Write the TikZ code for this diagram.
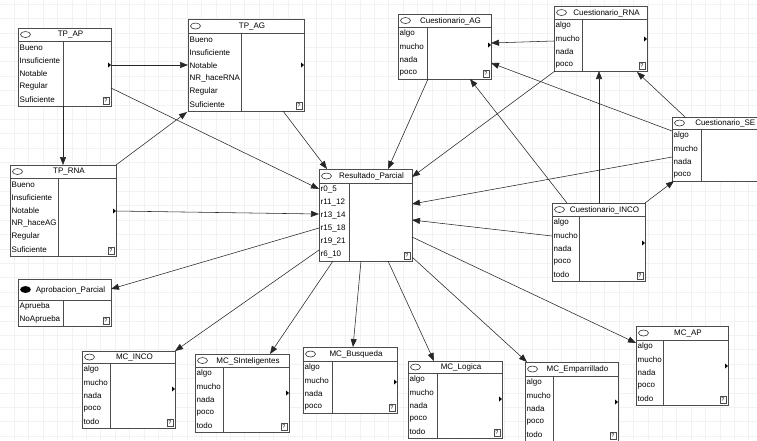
\documentclass[tikz,border=0pt]{standalone}
\usepackage{fontspec}
\setmainfont{Liberation Sans}
\usetikzlibrary{arrows.meta,calc}
\tikzset{
  boxframe/.style={draw=black!70, line width=0.7pt, fill=white, inner sep=0pt, outer sep=0pt},
  boxline/.style={draw=black!70, line width=0.7pt},
  rowtext/.style={font=\fontsize{8}{9}\selectfont, inner sep=0pt, anchor=west},
  titletext/.style={font=\fontsize{8}{9}\selectfont, inner sep=0pt},
  qtext/.style={font=\fontsize{5.5}{6}\selectfont, inner sep=0pt},
  conn/.style={draw=black!85, line width=0.55pt, -{Triangle[length=8pt,width=6pt]}},
  gridline/.style={draw=black!5, line width=0.4pt},
}
% #1 name, #2 left, #3 top, #4 right, #5 divider, #6 title bottom, #7 number of rows, #8 title, #9 rows
\newcommand{\netbox}[9]{%
  \pgfmathsetmacro\bB{#6+13*#7}%
  \node[boxframe, minimum width={(#4-#2)*1pt}, minimum height={(\bB-#3)*1pt}, anchor=north west] (#1) at (#2,#3) {};
  \draw[boxline] (#2,#6) -- (#4,#6);
  \draw[boxline] (#5,#6) -- (#5,\bB);
  \draw[black!80, line width=0.6pt] (#2+7.5,{(#3+#6)/2}) ellipse (5 and 3);
  \node[titletext] at ({(#2+12+#4)/2},{(#3+#6)/2+0.5}) {#8};
  \foreach \r [count=\i] in {#9} {\node[rowtext] at (#2+1.5,{#6+13*\i-6.2}) {\r};}
  \ifdim #4pt<757pt
    \draw[black!70, line width=0.5pt] (#4-8,\bB-9) rectangle (#4-2,\bB-2);
    \node[qtext] at (#4-5,\bB-5.4) {?};
  \fi
}
\newcommand{\handle}[2]{\fill[black] (#1,#2) -- (#1-3,#2-2.5) -- (#1-3,#2+2.5) -- cycle;}
\begin{document}
\begin{tikzpicture}[x=1pt,y=-1pt]
\useasboundingbox (0,0) rectangle (757,440);
\clip (0,0) rectangle (757,440);
\fill[white] (0,0) rectangle (757,440);
\foreach \k in {0,...,52} {\draw[gridline] (14.2+14.4*\k,0) -- (14.2+14.4*\k,440);}
\foreach \k in {0,...,30} {\draw[gridline] (0,3.9+14.4*\k) -- (757,3.9+14.4*\k);}

% boxes
\netbox{tpap}{18}{28}{111}{63}{41}{5}{TP\_AP}{Bueno,Insuficiente,Notable,Regular,Suficiente}
\netbox{tpag}{188}{19}{304}{241}{33}{6}{TP\_AG}{Bueno,Insuficiente,Notable,NR\_haceRNA,Regular,Suficiente}
\netbox{cag}{398}{14}{491}{427}{27}{4}{Cuestionario\_AG}{algo,mucho,nada,poco}
\netbox{crna}{554}{6}{647}{582}{19}{4}{Cuestionario\_RNA}{algo,mucho,nada,poco}
\netbox{cse}{672}{117}{768}{701}{129}{4}{}{algo,mucho,nada,poco}
\node[titletext, anchor=east] (csetitle) at (755.5,123.5) {Cuestionario\_SE};
\netbox{tprna}{10}{165}{116}{58}{178}{6}{TP\_RNA}{Bueno,Insuficiente,Notable,NR\_haceAG,Regular,Suficiente}
\netbox{res}{319}{169}{412}{349}{183}{6}{Resultado\_Parcial}{r0\_5,r11\_12,r13\_14,r15\_18,r19\_21,r6\_10}
\netbox{aprob}{18}{279}{111}{63}{300}{2}{Aprobacion\_Parcial}{Aprueba,NoAprueba}
\netbox{cinco}{552}{203}{645}{579}{216}{5}{Cuestionario\_INCO}{algo,mucho,nada,poco,todo}
\netbox{mcinco}{82}{351}{175}{110}{363}{5}{MC\_INCO}{algo,mucho,nada,poco,todo}
\netbox{mcsi}{195}{354}{289}{223}{367}{5}{MC\_SInteligentes}{algo,mucho,nada,poco,todo}
\netbox{mcbus}{303}{347}{397}{332}{361}{4}{MC\_Busqueda}{algo,mucho,nada,poco}
\netbox{mclog}{408}{361}{502}{437}{373}{5}{MC\_Logica}{algo,mucho,nada,poco,todo}
\netbox{mcemp}{525}{362}{618}{553}{376}{5}{MC\_Emparrillado}{algo,mucho,nada,poco,todo}
\netbox{mcap}{636}{326}{728}{663}{340}{5}{MC\_AP}{algo,mucho,nada,poco,todo}
% filled icon of the decision node
\fill[black] (25.5,289.5) ellipse (5.2 and 3.3);

% handles
\handle{111}{65}\handle{304}{65}\handle{491}{45}\handle{647}{39}\handle{645}{243}
\handle{116}{211}\handle{175}{389}\handle{289}{393}\handle{397}{382}\handle{502}{399}
\handle{618}{402}\handle{728}{366}

% connectors
\draw[conn] ([shift={(93,37)}]tpap.north west) -- ([shift={(0,46)}]tpag.north west);
\draw[conn] ([shift={(45,78)}]tpap.north west) -- ([shift={(53,0)}]tprna.north west);
\draw[conn] (tprna.north east) -- ([shift={(-1,1)}]tpag.south west);
\draw[conn] ([shift={(93,60)}]tpap.north west) -- ([shift={(0,20)}]res.north west);
\draw[conn] ([shift={(95,92)}]tpag.north west) -- ([shift={(8,0)}]res.north west);
\draw[conn] ([shift={(106,46)}]tprna.north west) -- ([shift={(0,45)}]res.north west);
\draw[conn] ([shift={(30,65)}]cag.north west) -- ([shift={(69,0)}]res.north west);
\draw[conn] ([shift={(1,65)}]crna.north west) -- ([shift={(93,8)}]res.north west);
\draw[conn] ([shift={(0,35)}]crna.north west) -- ([shift={(93,29)}]cag.north west);
\draw[conn] ([shift={(0,14)}]cse.north west) -- ([shift={(93,49)}]cag.north west);
\draw[conn] ([shift={(13,0)}]cse.north west) -- ([shift={(83,66)}]crna.north west);
\draw[conn] ([shift={(0,40)}]cse.north west) -- ([shift={(93,35)}]res.north west);
\draw[conn] ([shift={(0,33)}]cinco.north west) -- ([shift={(93,51)}]res.north west);
\draw[conn] (cinco.north east) -- ([shift={(2,64)}]cse.north west);
\draw[conn] ([shift={(47,0)}]cinco.north west) -- ([shift={(45,65)}]crna.north west);
\draw[conn] ([shift={(15,0)}]cinco.north west) -- ([shift={(72,65)}]cag.north west);
\draw[conn] ([shift={(0,59)}]res.north west) -- ([shift={(93,10)}]aprob.north west);
\draw[conn] ([shift={(0,81)}]res.north west) -- (mcinco.north east);
\draw[conn] ([shift={(14,92)}]res.north west) -- ([shift={(75,0)}]mcsi.north west);
\draw[conn] ([shift={(42,92)}]res.north west) -- ([shift={(50,0)}]mcbus.north west);
\draw[conn] ([shift={(69,92)}]res.north west) -- ([shift={(26,0)}]mclog.north west);
\draw[conn] ([shift={(93,88)}]res.north west) -- ([shift={(2,0)}]mcemp.north west);
\draw[conn] ([shift={(93,68)}]res.north west) -- ([shift={(0,17)}]mcap.north west);
\end{tikzpicture}
\end{document}
